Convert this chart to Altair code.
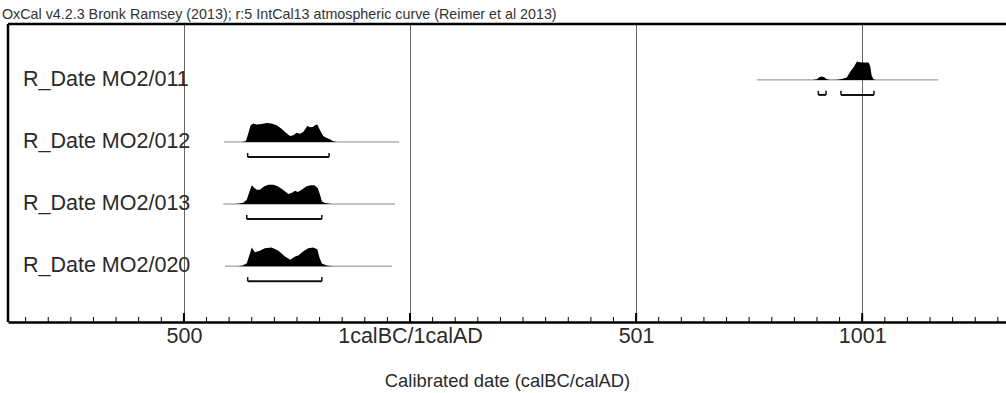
import altair as alt
import pandas as pd

# ---------------- data ----------------
samples = ["R_Date MO2/011", "R_Date MO2/012", "R_Date MO2/013", "R_Date MO2/020"]

# relative probability (max ~1) against calendar year (BC negative, 0 = 1calBC/1calAD boundary)
years_011 = [890, 899.6, 905, 910.6, 916, 921.7, 930, 945, 955, 966, 973, 980.6, 986.5, 988.5, 991.7, 999, 1006, 1014, 1017.5, 1021, 1025, 1030]
prob_011 = [0.0, 0.03, 0.13, 0.17, 0.13, 0.03, 0.0, 0.01, 0.04, 0.12, 0.41, 0.64, 0.87, 0.95, 0.93, 0.9, 0.9, 0.9, 0.73, 0.21, 0.03, 0.0]

years_012 = [-380, -372, -366, -362.7, -358, -352.4, -346.5, -339.2, -328, -317, -306, -295, -284, -276.5, -265.4, -258, -250.7, -243.3, -236, -227, -221, -215, -210, -205, -199, -192, -184, -177, -170, -162]
prob_012 = [0.0, 0.0, 0.02, 0.05, 0.41, 0.87, 0.95, 0.9, 0.93, 0.98, 0.95, 0.87, 0.69, 0.52, 0.31, 0.35, 0.48, 0.43, 0.52, 0.83, 0.76, 0.78, 0.87, 0.9, 0.61, 0.31, 0.21, 0.14, 0.04, 0.0]

years_013 = [-390, -380, -369, -361, -356, -350, -344, -339, -332, -322, -313, -302, -293, -284, -276.5, -269, -262, -254, -248, -239.5, -228.5, -219, -211.6, -204, -199, -195, -188, -173]
prob_013 = [0.0, 0.02, 0.07, 0.22, 0.57, 0.97, 0.83, 0.74, 0.74, 0.92, 1.0, 1.0, 0.92, 0.79, 0.66, 0.52, 0.57, 0.69, 0.62, 0.74, 0.92, 0.97, 0.97, 0.83, 0.48, 0.14, 0.05, 0.0]

years_020 = [-380, -370, -361, -354, -350, -343, -332, -321, -306, -291, -276.5, -265, -254, -247, -236, -225, -214, -205, -200.6, -195, -184, -170]
prob_020 = [0.0, 0.03, 0.15, 0.65, 0.97, 0.72, 0.8, 0.93, 0.97, 0.8, 0.5, 0.33, 0.5, 0.55, 0.77, 0.93, 0.97, 0.88, 0.47, 0.13, 0.03, 0.0]

# thin likelihood line extent
range_start = [767, -411, -413, -409]
range_end = [1168, -24, -33, -40]

# 95.4% ranges (brackets)
hpd_sample = ["R_Date MO2/011", "R_Date MO2/011", "R_Date MO2/012", "R_Date MO2/013", "R_Date MO2/020"]
hpd_from = [903, 953, -359, -361, -359]
hpd_to = [920, 1026, -179, -195, -195]

tick_values = [-500, 0, 500, 1000]
tick_labels = ["500", "1calBC/1calAD", "501", "1001"]
minor_ticks = list(range(-850, 1301, 50))

title_text = "OxCal v4.2.3 Bronk Ramsey (2013); r:5 IntCal13 atmospheric curve (Reimer et al 2013)"
x_title = "Calibrated date (calBC/calAD)"

# ---------------- layout ----------------
W, H = 998, 298
FONT = "Liberation Sans"
TOP_ROW = 3.9
PEAK = 0.311
DROP = 0.242
HOOK = 0.065

xs = alt.Scale(domain=[-889, 1318], nice=False, zero=False)
ys = alt.Scale(domain=[0, 4.8], nice=False, zero=False)

label_expr = " : ".join(
    f"datum.value == {v} ? '{l}'" for v, l in zip(tick_values[:-1], tick_labels[:-1])
) + f" : '{tick_labels[-1]}'"

x_axis = alt.Axis(
    values=tick_values, labelExpr=label_expr, grid=True, gridColor="#666666", gridWidth=1,
    gridOpacity=1, ticks=False, tickSize=0, domain=True, domainColor="black", domainWidth=2.5,
    labelFont=FONT, labelFontSize=21.5, labelColor="#2a2a2a", labelPadding=3, labelFlush=False,
    labelOverlap=False, title=x_title, titleFont=FONT, titleFontSize=18.4, titleFontWeight="normal",
    titleColor="#2a2a2a", titlePadding=25,
)

all_years = [years_011, years_012, years_013, years_020]
all_probs = [prob_011, prob_012, prob_013, prob_020]
dist = pd.concat(
    [pd.DataFrame({"sample": s, "row": i, "year": y, "p": p})
     for i, (s, y, p) in enumerate(zip(samples, all_years, all_probs))],
    ignore_index=True,
)
rows_df = pd.DataFrame({"sample": samples, "row": list(range(len(samples))),
                        "start": range_start, "end": range_end})
hpd_df = pd.DataFrame({"sample": hpd_sample, "from": hpd_from, "to": hpd_to})
hpd_df["row"] = hpd_df["sample"].map({s: i for i, s in enumerate(samples)})

base_expr = f"{TOP_ROW} - datum.row"

def X(field):
    return alt.X(field, scale=xs, axis=x_axis)

def Y(field):
    return alt.Y(field, scale=ys, axis=None)

lines = alt.Chart(rows_df).transform_calculate(base=base_expr).mark_rule(
    color="#8a8a8a", strokeWidth=1
).encode(x=X("start:Q"), x2="end:Q", y=Y("base:Q"))

areas = alt.Chart(dist).transform_calculate(
    base=base_expr, top=f"{TOP_ROW} - datum.row + {PEAK} * datum.p"
).mark_area(color="black", interpolate="linear").encode(
    x=X("year:Q"), y=Y("top:Q"), y2="base:Q", detail="sample:N",
)

hpd_base = alt.Chart(hpd_df).transform_calculate(
    yb=f"{TOP_ROW} - datum.row - {DROP}", yh=f"{TOP_ROW} - datum.row - {DROP} + {HOOK}"
)
bracket_h = hpd_base.mark_rule(color="#111", strokeWidth=2).encode(
    x=X("from:Q"), x2="to:Q", y=Y("yb:Q")
)
bracket_l = hpd_base.mark_rule(color="#111", strokeWidth=1.5).encode(
    x=X("from:Q"), y=Y("yb:Q"), y2="yh:Q"
)
bracket_r = hpd_base.mark_rule(color="#111", strokeWidth=1.5).encode(
    x=X("to:Q"), y=Y("yb:Q"), y2="yh:Q"
)

labels = alt.Chart(rows_df).transform_calculate(base=base_expr).mark_text(
    align="left", baseline="middle", font=FONT, fontSize=21.5, color="#2a2a2a"
).encode(x=alt.value(15), y=Y("base:Q"), text="sample:N")

minor = alt.Chart(pd.DataFrame({"v": minor_ticks})).mark_rule(color="black", strokeWidth=1).encode(
    x=X("v:Q"), y=alt.value(H), y2=alt.value(H - 5)
)
major = alt.Chart(pd.DataFrame({"v": tick_values})).mark_rule(color="black", strokeWidth=2).encode(
    x=X("v:Q"), y=alt.value(H), y2=alt.value(H - 9)
)

one = pd.DataFrame({"k": [0]})
frame_left = alt.Chart(one).mark_rule(color="black", strokeWidth=2.5).encode(
    x=alt.value(0), y=alt.value(0), y2=alt.value(H)
)
frame_top = alt.Chart(one).mark_rule(color="black", strokeWidth=2.5).encode(
    x=alt.value(0), x2=alt.value(W), y=alt.value(0)
)
title = alt.Chart(pd.DataFrame({"t": [title_text]})).mark_text(
    align="left", baseline="alphabetic", font=FONT, fontSize=14.3, color="#333"
).encode(x=alt.value(-6), y=alt.value(-5), text="t:N")

chart = alt.layer(
    lines, areas, bracket_h, bracket_l, bracket_r, labels, minor, major, frame_left, frame_top, title
).properties(
    width=W, height=H,
    autosize=alt.AutoSizeParams(type="none"),
    padding={"left": 8, "top": 24, "right": 0, "bottom": 71},
    background="white",
).configure_view(stroke=None)

chart.save("out.html", embed_options={"renderer": "svg", "actions": False})
